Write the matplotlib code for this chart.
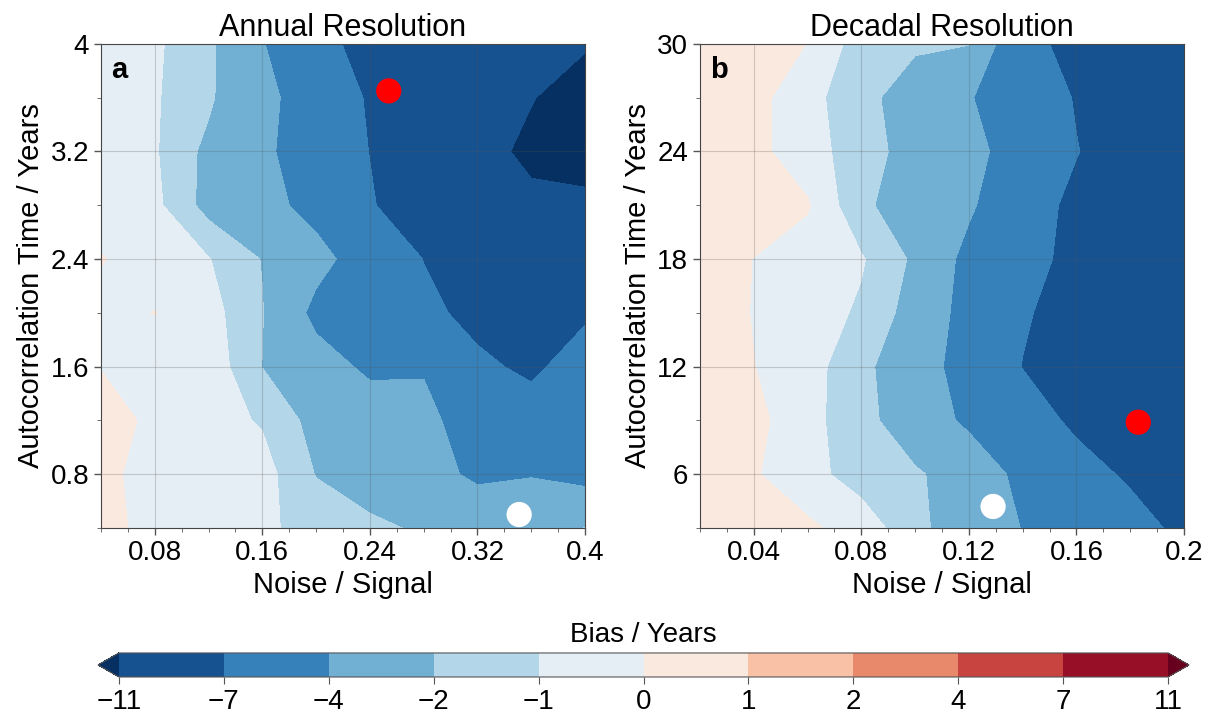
import numpy as np
import matplotlib
matplotlib.use("Agg")
import matplotlib.pyplot as plt
from matplotlib.colors import BoundaryNorm, ListedColormap

plt.rcParams['font.family'] = ['Liberation Sans', 'DejaVu Sans']

# colour levels of the bias
levels = [-11, -7, -4, -2, -1, 0, 1, 2, 4, 7, 11]

# panel a: annual resolution
noise_a = [0.04, 0.08, 0.12, 0.16, 0.20, 0.24, 0.28, 0.32, 0.36, 0.40]
tau_a = [0.4, 0.8, 1.2, 1.6, 2.0, 2.4, 2.8, 3.2, 3.6, 4.0]
bias_a = [
    [0.3, -0.3, -0.5, -0.85, -1.3, -1.7, -2.2, -2.8, -2.6, -1.98],
    [0.2, -0.3, -0.45, -0.6, -2.05, -2.8, -3.4, -4.3, -4.1, -4.6],
    [0.6, -0.3, -0.6, -1.1, -2.4, -3.0, -3.5, -5.0, -6.0, -5.5],
    [-0.05, -0.4, -0.35, -2.02, -3.2, -4.35, -4.15, -6.6, -7.4, -6.0],
    [-0.3, 0.02, -0.6, -1.95, -4.5, -5.5, -6.5, -7.6, -7.8, -7.3],
    [0.05, -0.4, -0.95, -2.05, -3.4, -5.0, -7.05, -8.5, -9.0, -8.5],
    [-0.5, -0.75, -2.4, -3.4, -4.6, -6.8, -8.5, -9.8, -10.5, -10.5],
    [-0.5, -0.9, -2.3, -3.6, -5.2, -7.05, -9.0, -10.2, -11.5, -12.0],
    [-0.5, -0.9, -1.8, -3.5, -5.0, -7.3, -9.0, -10.0, -10.9, -12.0],
    [-0.5, -0.85, -1.7, -3.9, -5.9, -8.2, -11.05, -10.0, -10.5, -10.8],
]
red_a = (0.254, 3.65)
white_a = (0.351, 0.50)

# panel b: decadal resolution
noise_b = [0.02, 0.04, 0.06, 0.08, 0.10, 0.12, 0.14, 0.16, 0.18, 0.20]
tau_b = [3, 6, 9, 12, 15, 18, 21, 24, 27, 30]
bias_b = [
    [0.9, 0.6, 0.2, -0.5, -1.6, -3.0, -4.05, -5.2, -6.2, -7.5],
    [0.5, 0.1, -0.7, -1.4, -1.85, -2.6, -4.6, -6.2, -7.3, -8.3],
    [0.6, 0.3, -0.7, -1.6, -2.8, -4.4, -6.0, -7.4, -8.3, -9.0],
    [0.6, 0.02, -0.6, -1.7, -2.9, -5.0, -7.05, -8.0, -8.5, -9.0],
    [0.6, -0.05, -0.5, -1.15, -2.5, -4.8, -6.8, -7.8, -8.5, -9.0],
    [0.6, -0.02, -0.5, -0.9, -2.2, -4.6, -6.0, -7.8, -8.5, -9.0],
    [0.5, 0.6, 0.1, -1.8, -2.6, -3.7, -5.8, -7.6, -8.5, -9.0],
    [0.5, 0.3, -0.6, -1.5, -2.5, -3.5, -4.8, -6.9, -8.5, -9.0],
    [0.5, 0.35, -0.7, -1.6, -2.7, -3.9, -5.0, -7.2, -8.5, -9.0],
    [0.5, 0.3, -0.01, -1.5, -1.8, -1.95, -6.0, -8.0, -9.0, -9.5],
]
red_b = (0.183, 8.9)
white_b = (0.129, 4.2)

base = plt.get_cmap('RdBu_r')
cmap = ListedColormap(base(np.linspace(0.065, 0.935, len(levels) - 1)))
cmap.set_under(base(0.0))
cmap.set_over(base(1.0))
norm = BoundaryNorm(levels, ncolors=len(levels) - 1)

fig = plt.figure(figsize=(12.1, 7.13), dpi=100)
ax_a = fig.add_axes([0.0835, 0.2595, 0.4, 0.679])
ax_b = fig.add_axes([0.5785, 0.2595, 0.4, 0.679])
cax = fig.add_axes([0.081, 0.0505, 0.9017, 0.0337])

panels = [
    (ax_a, noise_a, tau_a, bias_a, red_a, white_a, 'Annual Resolution', 'a',
     np.arange(0.08, 0.41, 0.08), np.arange(0.8, 4.01, 0.8), 0.02, 0.4),
    (ax_b, noise_b, tau_b, bias_b, red_b, white_b, 'Decadal Resolution', 'b',
     np.arange(0.04, 0.21, 0.04), np.arange(6, 31, 6), 0.01, 3),
]

for ax, x, y, z, red, white, title, lab, xt, yt, xminor, yminor in panels:
    cf = ax.contourf(x, y, np.array(z), levels=levels, cmap=cmap, norm=norm,
                     extend='both')
    ax.scatter(*red, s=330, color='red', zorder=5, edgecolor='none')
    ax.scatter(*white, s=330, color='white', zorder=5, edgecolor='none')
    ax.set_xlim(x[0], x[-1])
    ax.set_ylim(y[0], y[-1])
    ax.set_xticks(xt)
    ax.set_xticklabels([f'{v:g}' for v in xt])
    ax.set_yticks(yt)
    ax.set_yticklabels([f'{v:g}' for v in yt])
    ax.xaxis.set_minor_locator(matplotlib.ticker.MultipleLocator(xminor))
    ax.yaxis.set_minor_locator(matplotlib.ticker.MultipleLocator(yminor))
    ax.grid(True, color='#555555', alpha=0.25, linewidth=0.8)
    ax.set_axisbelow(False)
    ax.tick_params(labelsize=20, length=5, width=1, color='#555555')
    ax.tick_params(which='minor', length=3, color='#555555')
    ax.set_xlabel('Noise / Signal', fontsize=21)
    ax.set_ylabel('Autocorrelation Time / Years', fontsize=21)
    ax.set_title(title, fontsize=22, pad=6)
    ax.text(0.02, 0.975, lab, transform=ax.transAxes, fontsize=21,
            fontweight='bold', va='top', ha='left')
    for s in ax.spines.values():
        s.set_color('#444444')

cb = fig.colorbar(cf, cax=cax, orientation='horizontal', ticks=levels,
                  extendfrac=0.02)
cb.ax.tick_params(labelsize=20, length=5, color='#555555')
cb.outline.set_edgecolor('#555555')
cb.set_label('Bias / Years', fontsize=20, labelpad=8)
cb.ax.xaxis.set_label_position('top')

fig.savefig('out.png', dpi=100)
